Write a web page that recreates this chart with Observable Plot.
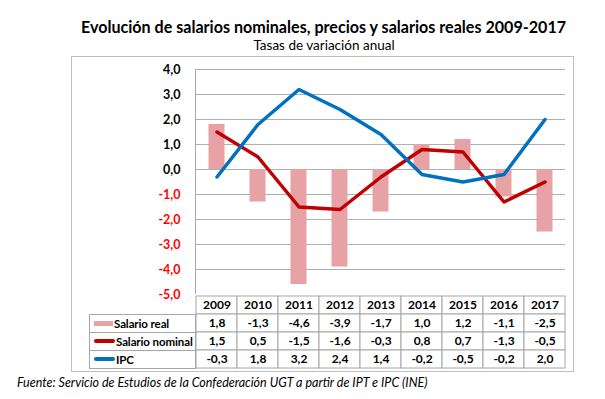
<!DOCTYPE html>
<html><head><meta charset="utf-8">
<script src="https://cdn.jsdelivr.net/npm/d3@7"></script>
<script src="https://cdn.jsdelivr.net/npm/@observablehq/plot@0.6"></script>
<style>
body{margin:0;background:#fff;font-family:Lato,"Open Sans",sans-serif;}
#wrap{position:relative;width:605px;height:399px;overflow:hidden;background:#fff}
.abs{position:absolute;white-space:nowrap}
#title{left:0;width:647px;text-align:center;top:17px;font-size:16.1px;font-weight:bold;color:#000}
#subtitle{left:0;width:648px;text-align:center;top:37px;font-size:13.5px;color:#000}
#frame{left:71px;top:56px;width:503px;height:316px;border:1px solid #bfbfbf;box-sizing:border-box}
#footer{left:17px;top:375px;font-size:12.5px;font-style:italic;color:#000}
.lab{position:absolute;box-sizing:border-box;border:1px solid #a6a6a6;font-size:11.5px;font-weight:bold;color:#000;display:flex;align-items:center;white-space:nowrap;overflow:visible}
.sw{display:inline-block;margin-left:4px;margin-right:1px;flex:none}
</style></head><body><div id="wrap">
<div id="frame" class="abs"></div>
<div id="title" class="abs">Evolución de salarios nominales, precios y salarios reales 2009-2017</div>
<div id="subtitle" class="abs">Tasas de variación anual</div>
<div id="footer" class="abs">Fuente: Servicio de Estudios de la Confederación UGT a partir de IPT e IPC (INE)</div>
</div>
<script>
const years = ["2009","2010","2011","2012","2013","2014","2015","2016","2017"];
const salarioReal = [1.8,-1.3,-4.6,-3.9,-1.7,1.0,1.2,-1.1,-2.5];
const salarioNominal = [1.5,0.5,-1.5,-1.6,-0.3,0.8,0.7,-1.3,-0.5];
const ipc = [-0.3,1.8,3.2,2.4,1.4,-0.2,-0.5,-0.2,2.0];
const seriesNames = ["Salario real","Salario nominal","IPC"];
const yTicks = [4,3,2,1,0,-1,-2,-3,-4,-5];
const headerRow = "Año";

const colReal = "#E6A2A5", colNom = "#C00000", colIpc = "#0070C0";
const loc = d3.formatLocale({decimal:",", thousands:".", grouping:[3], currency:["","€"], minus:"-"});
const fmt = loc.format(".1f");

const realData = years.map((y,i)=>({year:y, value:salarioReal[i]}));
const nomData = years.map((y,i)=>({year:y, value:salarioNominal[i]}));
const ipcData = years.map((y,i)=>({year:y, value:ipc[i]}));

const W = 605, ML = 195, MR = 40;
const chart = Plot.plot({
  width: W, height: 300, marginTop: 69, marginBottom: 6, marginLeft: ML, marginRight: MR,
  style: {background: "transparent", overflow: "visible"},
  x: {type: "band", domain: years, padding: 0, axis: null},
  y: {domain: [-5, 4], axis: null},
  color: {type: "identity"},
  marks: [
    Plot.ruleY(yTicks.filter(v => v > -5), {y: d => d, stroke: "#b0b0b0", strokeWidth: 1}),
    Plot.barY(realData, {x: "year", y: "value", fill: colReal, insetLeft: 12.5, insetRight: 12.5}),
    Plot.lineY(nomData, {x: "year", y: "value", stroke: colNom, strokeWidth: 3.5, strokeLinejoin: "round", strokeLinecap: "round"}),
    Plot.lineY(ipcData, {x: "year", y: "value", stroke: colIpc, strokeWidth: 3.5, strokeLinejoin: "round", strokeLinecap: "round"}),
    Plot.text(yTicks, {y: d => d, frameAnchor: "left", dx: -15, textAnchor: "end", text: d => fmt(d),
      fill: d => d < 0 ? "#FF0000" : "#000000", fontWeight: "bold", fontSize: 12.5, fontFamily: "Lato"})
  ]
});
chart.style.position = "absolute"; chart.style.left = "0px"; chart.style.top = "0px";
document.getElementById("wrap").appendChild(chart);
{
  const sx = chart.scale("x"), sy = chart.scale("y");
  const x0 = sx.range[0];
  d3.select(chart).append("line")
    .attr("x1", x0 + 0.5).attr("x2", x0 + 0.5)
    .attr("y1", sy.apply(4)).attr("y2", sy.apply(-5))
    .attr("stroke", "#a6a6a6");
}

const rowsKeys = [headerRow, ...seriesNames];
const cells = [];
years.forEach((y,i) => {
  cells.push({year: y, row: headerRow, text: y});
  cells.push({year: y, row: seriesNames[0], text: fmt(salarioReal[i])});
  cells.push({year: y, row: seriesNames[1], text: fmt(salarioNominal[i])});
  cells.push({year: y, row: seriesNames[2], text: fmt(ipc[i])});
});
const tbl = Plot.plot({
  width: W, height: 75, marginTop: 0.5, marginBottom: 0.5, marginLeft: ML, marginRight: MR,
  style: {background: "transparent", overflow: "visible"},
  x: {type: "band", domain: years, padding: 0, axis: null},
  y: {type: "band", domain: rowsKeys, padding: 0, axis: null},
  marks: [
    Plot.cell(cells, {x: "year", y: "row", fill: "white", stroke: "#a6a6a6"}),
    Plot.text(cells, {x: "year", y: "row", text: "text", fontWeight: "bold", fontSize: 12, fontFamily: "Lato", fill: "#000"})
  ]
});
tbl.style.position = "absolute"; tbl.style.left = "0px"; tbl.style.top = "294px";
document.getElementById("wrap").appendChild(tbl);

{
  const sy = tbl.scale("y");
  const bw = sy.bandwidth;
  const wrap = document.getElementById("wrap");
  seriesNames.forEach((name, i) => {
    const d = document.createElement("div");
    d.className = "lab";
    d.style.left = "89px";
    d.style.width = (ML - 89 + 1) + "px";
    d.style.top = (294 + sy.apply(name) - 0.5) + "px";
    d.style.height = (bw + 1) + "px";
    const sw = document.createElement("span");
    sw.className = "sw";
    if (i === 0) { sw.style.width = "19px"; sw.style.height = "5px"; sw.style.background = colReal; }
    else { sw.style.width = "21px"; sw.style.height = "3.5px"; sw.style.borderRadius = "2px"; sw.style.background = i === 1 ? colNom : colIpc; }
    d.appendChild(sw);
    const t = document.createElement("span");
    t.textContent = name;
    t.style.letterSpacing = "-0.1px";
    d.appendChild(t);
    wrap.appendChild(d);
  });
}
</script></body></html>
